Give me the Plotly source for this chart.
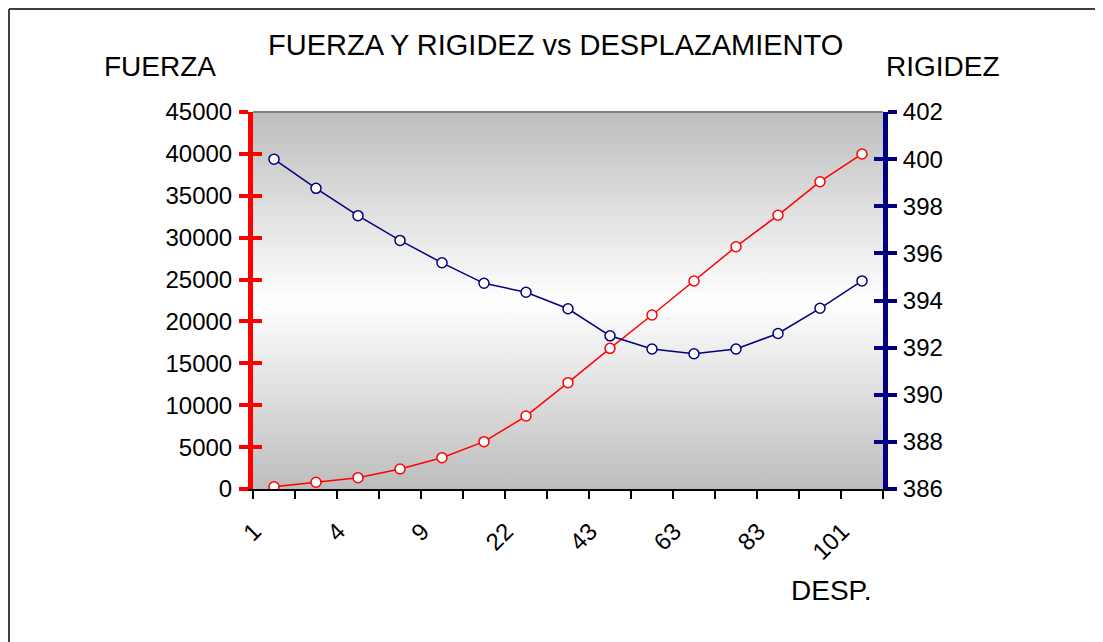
import base64
import plotly.graph_objects as go

# ---- data ----
x_labels = ["1", "4", "9", "22", "43", "63", "83", "101"]  # every other category labelled
fuerza = [270, 800, 1350, 2390, 3740, 5650, 8710, 12690,
          16790, 20770, 24830, 28920, 32670, 36680, 39990]
rigidez = [400.0, 398.76, 397.6, 396.55, 395.6, 394.73, 394.35, 393.65,
           392.5, 391.94, 391.74, 391.94, 392.6, 393.67, 394.83]

OFF = 8  # page body margin
W, H = 1103 - OFF, 642 - OFF
L, T = 253 - OFF, 112 - OFF
R = W - (883 - OFF)
B = H - (489 - OFF)
PW, PH = W - L - R, H - T - B


def px(x):
    return (x - OFF - L) / PW


def py(y):
    return 1 - (y - OFF - T) / PH


idx = list(range(len(fuerza)))
FONT = "Liberation Sans, Arial, sans-serif"
RED = "#ff0000"
NAVY = "#000080"

fig = go.Figure()
fig.add_trace(go.Scatter(
    x=idx, y=fuerza, mode="lines+markers", name="FUERZA",
    line=dict(color=RED, width=1.5),
    marker=dict(symbol="circle", size=10, color="white", line=dict(color=RED, width=1.5)),
    yaxis="y"))
fig.add_trace(go.Scatter(
    x=idx, y=rigidez, mode="lines+markers", name="RIGIDEZ",
    line=dict(color=NAVY, width=1.5),
    marker=dict(symbol="circle", size=10, color="white", line=dict(color=NAVY, width=1.5)),
    yaxis="y2"))
# empty helper traces so the overlay tick axes get drawn
fig.add_trace(go.Scatter(x=[None], y=[None], yaxis="y3", showlegend=False, hoverinfo="skip"))
fig.add_trace(go.Scatter(x=[None], y=[None], yaxis="y4", showlegend=False, hoverinfo="skip"))

svg = ('<svg xmlns="http://www.w3.org/2000/svg" width="100" height="100" preserveAspectRatio="none">'
       '<defs><linearGradient id="g" x1="0" y1="0" x2="0" y2="1">'
       '<stop offset="0" stop-color="#bdbdbd"/><stop offset="0.5" stop-color="#ffffff"/>'
       '<stop offset="1" stop-color="#bdbdbd"/></linearGradient></defs>'
       '<rect width="100" height="100" fill="url(#g)"/></svg>')
src = "data:image/svg+xml;base64," + base64.b64encode(svg.encode()).decode()

tickfont = dict(family=FONT, size=24, color="black")
n = len(fuerza)

fig.update_layout(
    width=W, height=H,
    margin=dict(l=L, r=R, t=T, b=B, pad=0),
    paper_bgcolor="white", plot_bgcolor="rgba(0,0,0,0)",
    showlegend=False,
    images=[dict(source=src, xref="paper", yref="paper", x=0, y=1, sizex=1, sizey=1,
                 sizing="stretch", layer="below", xanchor="left", yanchor="top")],
    xaxis=dict(
        range=[-0.5, n - 0.5], showgrid=False, zeroline=False,
        showline=True, linecolor="black", linewidth=1.5,
        tickmode="array", tickvals=[i - 0.47 for i in range(0, n, 2)], ticktext=x_labels,
        ticks="", tickangle=-45, tickfont=tickfont, ticklabelstandoff=17,
        minor=dict(tickmode="array", tickvals=[i - 0.5 for i in range(n + 1)],
                   ticks="outside", ticklen=8, tickwidth=1.5, tickcolor="black", showgrid=False),
    ),
    yaxis=dict(
        range=[0, 45000], dtick=5000, tickformat="d", showgrid=False, zeroline=False,
        showline=True, linecolor=RED, linewidth=5,
        ticks="outside", ticklen=9, tickwidth=4, tickcolor=RED,
        tickfont=tickfont, ticklabelstandoff=2),
    yaxis2=dict(
        range=[386, 402], dtick=2, overlaying="y", side="right", anchor="x",
        showgrid=False, zeroline=False,
        showline=True, linecolor=NAVY, linewidth=5,
        ticks="outside", ticklen=9, tickwidth=4, tickcolor=NAVY,
        tickfont=tickfont, ticklabelstandoff=1),
    yaxis3=dict(
        range=[0, 45000], dtick=5000, overlaying="y", side="left", anchor="x",
        showgrid=False, zeroline=False, showline=False, showticklabels=False,
        ticks="inside", ticklen=9, tickwidth=4, tickcolor=RED),
    yaxis4=dict(
        range=[386, 402], dtick=2, overlaying="y", side="right", anchor="x",
        showgrid=False, zeroline=False, showline=False, showticklabels=False,
        ticks="inside", ticklen=9, tickwidth=4, tickcolor=NAVY),
    shapes=[
        dict(type="line", xref="paper", yref="paper", x0=0, x1=1, y0=1, y1=1,
             line=dict(color="#808080", width=2)),
        dict(type="line", xref="paper", yref="paper", x0=px(9), x1=px(1103 + 20), y0=py(9), y1=py(9),
             line=dict(color="#404040", width=2)),
        dict(type="line", xref="paper", yref="paper", x0=px(9), x1=px(9), y0=py(9), y1=py(642 + 20),
             line=dict(color="#404040", width=2)),
    ],
    annotations=[
        dict(text="FUERZA Y RIGIDEZ vs DESPLAZAMIENTO", xref="paper", yref="paper",
             x=px(555), y=py(45), showarrow=False, xanchor="center", yanchor="middle",
             font=dict(family=FONT, size=29, color="black")),
        dict(text="FUERZA", xref="paper", yref="paper", x=px(160), y=py(66), showarrow=False,
             xanchor="center", yanchor="middle", font=dict(family=FONT, size=28, color="black")),
        dict(text="RIGIDEZ", xref="paper", yref="paper", x=px(943), y=py(66), showarrow=False,
             xanchor="center", yanchor="middle", font=dict(family=FONT, size=28, color="black")),
        dict(text="DESP.", xref="paper", yref="paper", x=px(831), y=py(590), showarrow=False,
             xanchor="center", yanchor="middle", font=dict(family=FONT, size=28, color="black")),
    ],
)

fig.write_html("out.html")
